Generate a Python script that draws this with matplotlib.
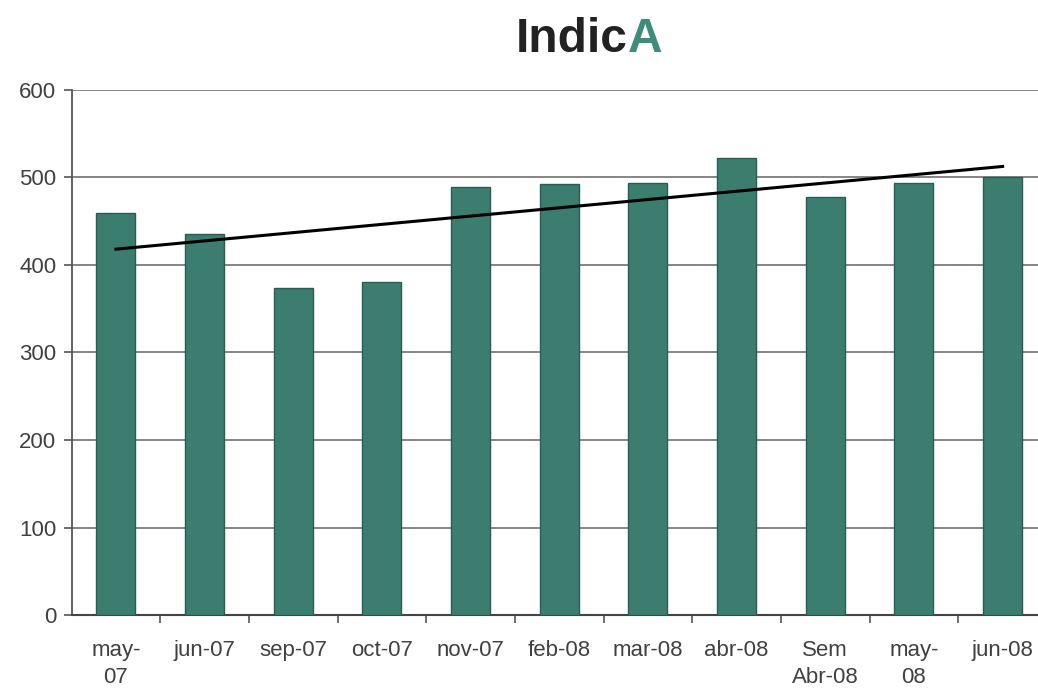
import matplotlib
matplotlib.use("Agg")
import matplotlib.pyplot as plt
import numpy as np

categories = ["may-\n07", "jun-07", "sep-07", "oct-07", "nov-07", "feb-08",
              "mar-08", "abr-08", "Sem\nAbr-08", "may-\n08", "jun-08"]
values = [459, 435, 374, 381, 489, 493, 494, 522, 478, 494, 500]
yticks = [0, 100, 200, 300, 400, 500, 600]

plt.rcParams['font.family'] = ['Liberation Sans', 'DejaVu Sans']

W, H = 1038, 690
fig = plt.figure(figsize=(W / 100, H / 100), dpi=100)
left_px, right_px = 71.6, 1047
top_px, bot_px = 90, 615
ax = fig.add_axes([left_px / W, 1 - bot_px / H, (right_px - left_px) / W, (bot_px - top_px) / H])

x = np.arange(len(categories))
ax.bar(x, values, width=0.44, color="#3b7e6f", edgecolor="#2b5c52", linewidth=1.0, zorder=3)

coef = np.polyfit(x, values, 1)
ax.plot(x, np.polyval(coef, x), color="black", linewidth=2.2, zorder=4)

ax.set_xlim(-0.5, len(categories) - 0.5)
ax.set_ylim(0, 600)
ax.set_yticks(yticks)
ax.set_yticklabels([str(v) for v in yticks])
ax.yaxis.grid(True, color="#7c7c7c", linewidth=1.3, zorder=0)
ax.set_axisbelow(True)

ax.set_xticks(x)
ax.set_xticklabels(categories, linespacing=1.35)
ax.set_xticks(np.arange(len(categories)) + 0.5, minor=True)
ax.tick_params(axis='x', which='major', length=0, pad=18, labelsize=16, labelcolor="#404040")
ax.tick_params(axis='x', which='minor', length=6, width=1.2, color="#555555", direction='out')
ax.tick_params(axis='y', length=6, width=1.2, color="#555555", pad=5, labelsize=16, labelcolor="#404040")

for s in ['top', 'right']:
    ax.spines[s].set_visible(False)
ax.spines['left'].set_color("#555555")
ax.spines['left'].set_linewidth(1.3)
ax.spines['bottom'].set_color("#444444")
ax.spines['bottom'].set_linewidth(1.5)

split = 628 / W
fig.text(split, 1 - 52 / H, "Indic", ha='right', va='baseline', fontsize=34.5, fontweight='bold', color="#222222")
fig.text(split, 1 - 52 / H, "A", ha='left', va='baseline', fontsize=34.5, fontweight='bold', color="#3f8c7a")

fig.savefig("out.png", dpi=100)
